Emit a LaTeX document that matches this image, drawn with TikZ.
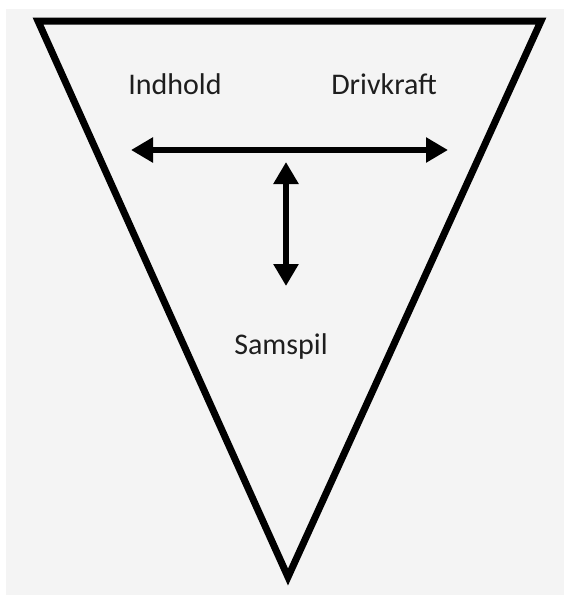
\documentclass[tikz,border=0pt]{standalone}
\usepackage{fontspec}
\setmainfont{Carlito}
\usetikzlibrary{arrows.meta}
\definecolor{bggray}{HTML}{F4F4F4}
\definecolor{txt}{HTML}{1E1E1E}
\tikzset{
  lbl/.style={font=\fontsize{30}{34}\selectfont, text=txt, inner sep=0pt},
  tri/.style={draw=black, line width=7pt, miter limit=20, line join=miter},
  dblarrow/.style={line width=6pt, {Triangle[length=22pt,width=24pt]}-{Triangle[length=22pt,width=24pt]}}
}
\begin{document}
\begin{tikzpicture}[x=1pt,y=-1pt]
  \useasboundingbox (0,0) rectangle (564,595);
  \fill[white] (0,0) rectangle (564,595);
  \fill[bggray] (6,9) rectangle (564,595);
  \coordinate (tl) at (38,21);
  \coordinate (tr) at (541,21);
  \coordinate (bt) at (288,577);
  \draw[tri] (tl) -- (tr) -- (bt) -- cycle;
  \node[lbl] (indhold) at (175,84) {Indhold};
  \node[lbl] (drivkraft) at (384,84) {Drivkraft};
  \node[lbl] (samspil) at (281,346) {Samspil};
  \coordinate (hl) at (131,150);
  \coordinate (hr) at (448,150);
  \coordinate (vt) at (286,162);
  \coordinate (vb) at (286,286);
  \draw[dblarrow] (hl) -- (hr);
  \draw[dblarrow] (vt) -- (vb);
\end{tikzpicture}
\end{document}
